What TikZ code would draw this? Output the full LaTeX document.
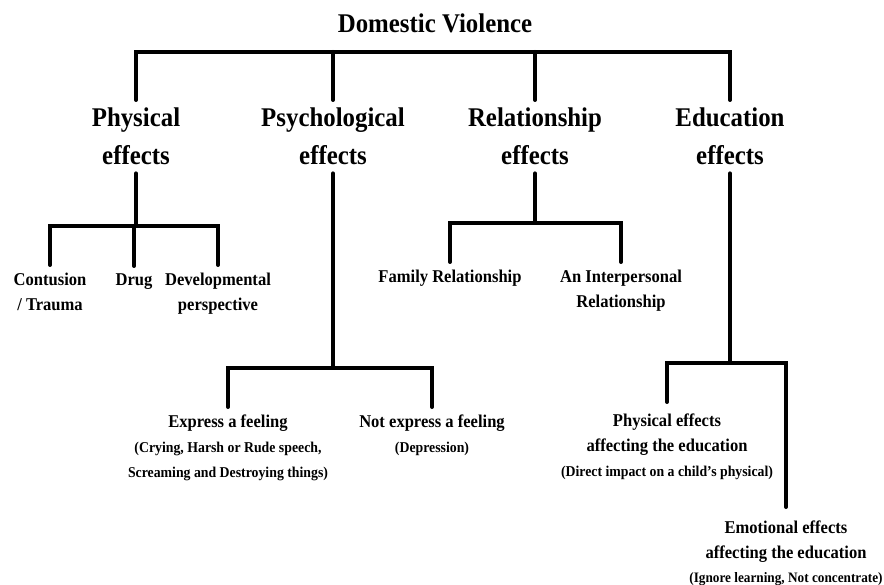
\documentclass[tikz,border=0pt]{standalone}
\usepackage{fontspec}
\setmainfont{Liberation Serif}[FakeStretch=0.92]
\usepackage{tikz}
\usetikzlibrary{positioning}
\newcommand{\detail}{\fontsize{15}{21.5}\selectfont}

\begin{document}
\begin{tikzpicture}[
  x=1pt, y=-1pt,
  title/.style={font=\fontsize{27}{32}\selectfont\bfseries},
  group/.style={align=center, inner xsep=0pt, inner ysep=8pt,
    font=\fontsize{27}{38}\selectfont\bfseries},
  item/.style={align=center, inner xsep=0pt, inner ysep=8pt,
    font=\fontsize{18}{25}\selectfont\bfseries},
  link/.style={line width=4pt, line cap=round, line join=miter},
]
  \useasboundingbox (0,0) rectangle (884,585);

  \node[title, anchor=base] (dv) at (435,33) {Domestic Violence};

  % first level
  \node[group, anchor=north] (phys) at (136,100) {Physical\\effects};
  \node[group, anchor=north] (psy)  at (333,100) {Psychological\\effects};
  \node[group, anchor=north] (rel)  at (535,100) {Relationship\\effects};
  \node[group, anchor=north] (edu)  at (730,100) {Education\\effects};

  % physical
  \node[item, anchor=north] (cont) at (50,265)  {Contusion\\/ Trauma};
  \node[item, anchor=north] (drug) at (134,266) {Drug};
  \node[item, anchor=north] (dev)  at (218,265) {Developmental\\perspective};

  % relationship
  \node[item, anchor=north] (fam)   at (450,262) {Family Relationship};
  \node[item, anchor=north] (inter) at (621,262) {An Interpersonal\\Relationship};

  % psychological
  \node[item, anchor=north] (expr) at (228,407)
    {Express a feeling\\\detail (Crying, Harsh or Rude speech,\\
     \detail Screaming and Destroying things)};
  \node[item, anchor=north] (nexpr) at (432,407)
    {Not express a feeling\\\detail (Depression)};

  % education
  \node[item, anchor=north, inner ysep=12pt] (physedu) at (667,402)
    {Physical effects\\affecting the education\\
     \detail (Direct impact on a child's physical)};
  \node[item, anchor=north, inner ysep=14pt] (emoedu) at (786,507)
    {Emotional effects\\affecting the education\\[-1pt]
     \fontsize{14.4}{20}\selectfont (Ignore learning, Not concentrate)};

  \draw[link] (phys.north) -- ++(0,-48) coordinate (topbar) -| (edu.north);
  \draw[link] (psy.north) -- (psy.north |- topbar);
  \draw[link] (rel.north) -- (rel.north |- topbar);

  \draw[link] (cont.north) -- ++(0,-39) coordinate (physbar) -| (dev.north);
  \draw[link] (phys.south) -- (phys.south |- physbar);
  \draw[link] (drug.north) -- (drug.north |- physbar);

  \draw[link] (fam.north) -- ++(0,-39) coordinate (relbar) -| (inter.north);
  \draw[link] (rel.south) -- (rel.south |- relbar);

  \draw[link] (expr.north) -- ++(0,-39) coordinate (psybar) -| (nexpr.north);
  \draw[link] (psy.south) -- (psy.south |- psybar);

  \draw[link] (physedu.north) -- ++(0,-39) coordinate (edubar) -| (emoedu.north);
  \draw[link] (edu.south) -- (edu.south |- edubar);
\end{tikzpicture}
\end{document}
